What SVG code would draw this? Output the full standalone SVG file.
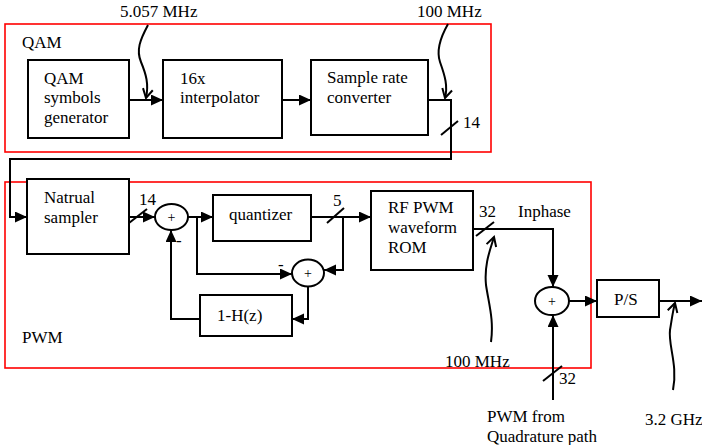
<svg xmlns="http://www.w3.org/2000/svg" width="702" height="445" viewBox="0 0 702 445" font-family="'Liberation Serif', 'DejaVu Serif', serif">
<defs>
<style>
text{font-family:'Liberation Serif','DejaVu Serif',serif}
.t{font-size:17px;fill:#000}
.box{fill:#fff;stroke:#000;stroke-width:2}
.red{fill:none;stroke:#ff0000;stroke-width:1.6}
.w{fill:none;stroke:#000;stroke-width:2}
.sum{fill:#fff;stroke:#000;stroke-width:2}
.plus{font-size:14px;fill:#000;text-anchor:middle}
</style>
<marker id="ah" markerUnits="userSpaceOnUse" markerWidth="13" markerHeight="12" refX="12" refY="5.5" orient="auto">
<path d="M0,0 L12,5.5 L0,11 z" fill="#000"/>
</marker>
<marker id="oh" markerUnits="userSpaceOnUse" markerWidth="14" markerHeight="14" refX="10" refY="6" orient="auto">
<path d="M1,1 L10,6 L1,11" fill="none" stroke="#000" stroke-width="2"/>
</marker>
</defs>
<rect width="702" height="445" fill="#fff"/>

<g id="qam-region">
<rect class="red" x="5" y="24" width="486" height="128"/>
<text class="t" x="22" y="48">QAM</text>
</g>
<g id="pwm-region">
<rect class="red" x="5" y="182" width="586" height="186"/>
<text class="t" x="22" y="343">PWM</text>
</g>

<g id="connectors">
<path class="w" d="M129,100 H163" marker-end="url(#ah)"/>
<path class="w" d="M282,100 H311" marker-end="url(#ah)"/>
<path class="w" d="M428,100 H451 V159 H10 V217 H27" marker-end="url(#ah)"/>
<line class="w" x1="441" y1="135" x2="458" y2="121"/>
<path class="w" d="M129,217 H155" marker-end="url(#ah)"/>
<line class="w" x1="129" y1="223" x2="147" y2="209"/>
<path class="w" d="M188,217 H213" marker-end="url(#ah)"/>
<path class="w" d="M197,217 V274 H292" marker-end="url(#ah)"/>
<path class="w" d="M311,217 H371" marker-end="url(#ah)"/>
<line class="w" x1="327" y1="223" x2="344" y2="208"/>
<path class="w" d="M343,217 V270 H324" marker-end="url(#ah)"/>
<path class="w" d="M308,286 V319 H292" marker-end="url(#ah)"/>
<path class="w" d="M200,319 H171 V230" marker-end="url(#ah)"/>
<path class="w" d="M473,229 H553 V287" marker-end="url(#ah)"/>
<line class="w" x1="476" y1="236" x2="494" y2="222"/>
<path class="w" d="M569,301 H597" marker-end="url(#ah)"/>
<path class="w" d="M659,301 H702" marker-end="url(#ah)"/>
<path class="w" d="M553,400 V315" marker-end="url(#ah)"/>
<line class="w" x1="543" y1="381" x2="562" y2="366"/>
<path class="w" d="M148,25 C140,40 136,50 141,62 C146,74 149,84 146,98" marker-end="url(#oh)"/>
<path class="w" d="M448,24 C440,38 436,50 440,62 C445,76 448,86 445,98" marker-end="url(#oh)"/>
<path class="w" d="M491,342 C494,320 489,305 486,285 C484,265 490,250 494,237" marker-end="url(#oh)"/>
<path class="w" d="M673,390 C678,365 668,345 670,330 C672,318 673,310 675,303" marker-end="url(#oh)"/>
</g>

<g id="labels">
<text class="t" x="120" y="17">5.057 MHz</text>
<text class="t" x="417" y="17">100 MHz</text>
<text class="t" x="463" y="128">14</text>
<text class="t" x="139" y="205">14</text>
<text class="t" x="333" y="206">5</text>
<text class="t" x="479" y="217">32</text>
<text class="t" x="518" y="217">Inphase</text>
<text class="t" x="445" y="367">100 MHz</text>
<text class="t" x="559" y="384">32</text>
<text class="t" x="487" y="422">PWM from</text>
<text class="t" x="487" y="442">Quadrature path</text>
<text class="t" x="645" y="425">3.2 GHz</text>
<text class="t" x="176" y="246">-</text>
<text class="t" x="278" y="270">-</text>
</g>

<g id="qam-gen">
<rect class="box" x="28" y="60" width="101" height="78"/>
<text class="t" x="44" y="84">QAM</text>
<text class="t" x="44" y="103">symbols</text>
<text class="t" x="44" y="123">generator</text>
</g>
<g id="interp">
<rect class="box" x="163" y="60" width="119" height="78"/>
<text class="t" x="180" y="84">16x</text>
<text class="t" x="180" y="103">interpolator</text>
</g>
<g id="src">
<rect class="box" x="311" y="60" width="117" height="75"/>
<text class="t" x="327" y="83">Sample rate</text>
<text class="t" x="327" y="103">converter</text>
</g>
<g id="sampler">
<rect class="box" x="27" y="179" width="102" height="75"/>
<text class="t" x="44" y="203">Natrual</text>
<text class="t" x="44" y="223">sampler</text>
</g>
<g id="sum1">
<ellipse class="sum" cx="171.5" cy="217" rx="16.5" ry="13"/>
<text class="plus" x="171.5" y="222">+</text>
</g>
<g id="quantizer">
<rect class="box" x="213" y="195" width="98" height="46"/>
<text class="t" x="229" y="220">quantizer</text>
</g>
<g id="sum2">
<ellipse class="sum" cx="308" cy="273" rx="16" ry="13.5"/>
<text class="plus" x="308" y="278">+</text>
</g>
<g id="filter">
<rect class="box" x="200" y="295" width="92" height="41"/>
<text class="t" x="217" y="321">1-H(z)</text>
</g>
<g id="rom">
<rect class="box" x="371" y="191" width="102" height="79"/>
<text class="t" x="388" y="213">RF PWM</text>
<text class="t" x="388" y="233">waveform</text>
<text class="t" x="388" y="253">ROM</text>
</g>
<g id="sum3">
<ellipse class="sum" cx="552" cy="301" rx="17" ry="14"/>
<text class="plus" x="552" y="306">+</text>
</g>
<g id="ps">
<rect class="box" x="597" y="280" width="62" height="37"/>
<text class="t" x="614" y="305">P/S</text>
</g>
</svg>
